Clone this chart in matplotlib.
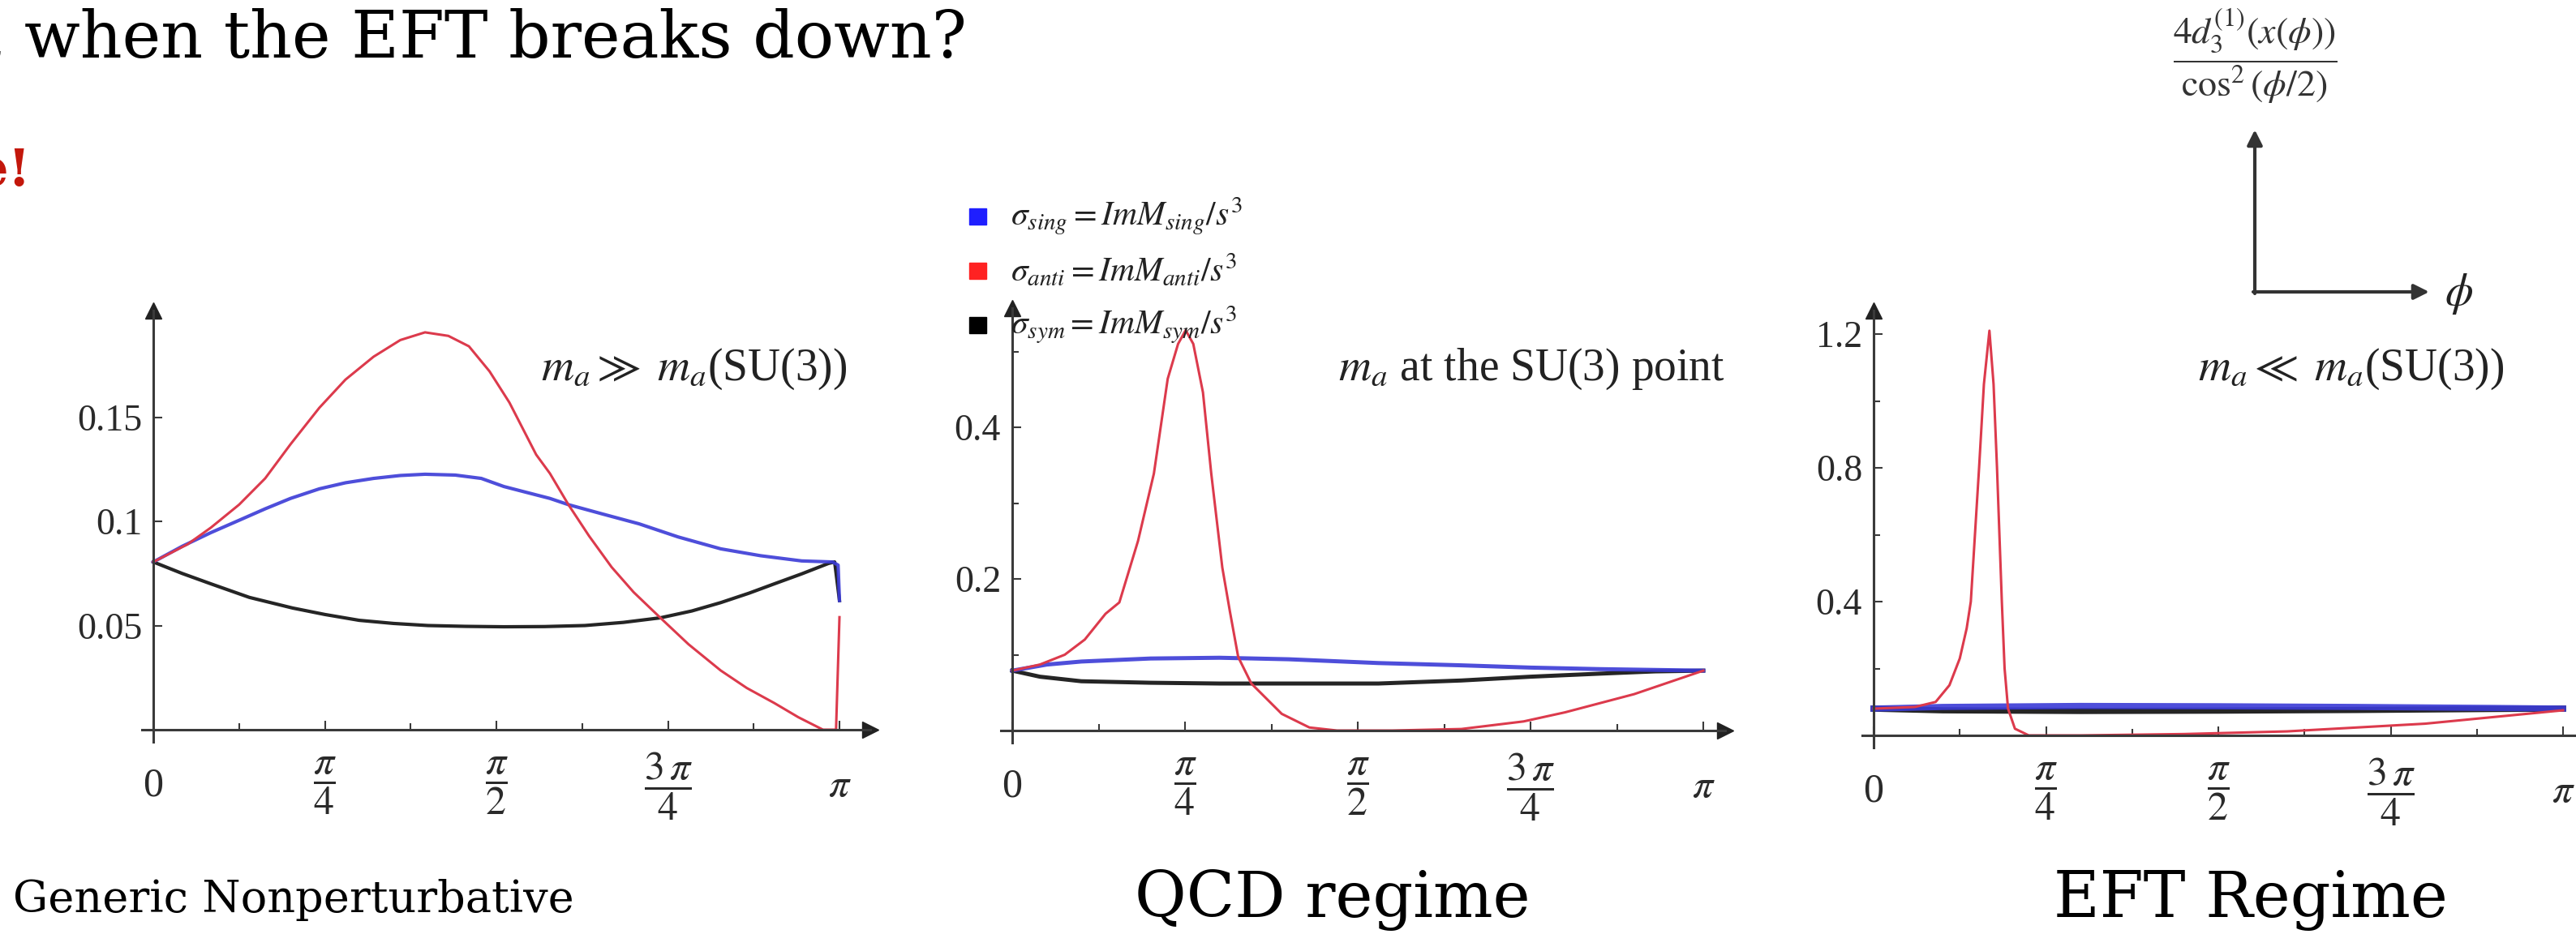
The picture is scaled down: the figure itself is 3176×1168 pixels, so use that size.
import numpy as np
import matplotlib
matplotlib.use("Agg")
from matplotlib import pyplot as plt
from matplotlib.patches import Rectangle, FancyArrowPatch
from matplotlib.ticker import FixedLocator

plt.rcParams['font.family'] = 'serif'
plt.rcParams['font.serif'] = ['Liberation Serif', 'DejaVu Serif']
plt.rcParams['mathtext.fontset'] = 'stix'

W, H = 3176, 1168

# ---- data (phi in units of pi) ----
# Generic nonperturbative panel
gen_red_phi = [0, 0.05, 0.084, 0.125, 0.163, 0.2, 0.242, 0.28, 0.321, 0.36, 0.396, 0.43, 0.46, 0.49,
               0.519, 0.558, 0.578, 0.605, 0.635, 0.668, 0.7, 0.739, 0.78, 0.827, 0.865, 0.905, 0.94,
               0.976, 0.995, 1.0]
gen_red = [0.0805, 0.089, 0.097, 0.108, 0.1206, 0.137, 0.1545, 0.168, 0.179, 0.187, 0.1907, 0.189,
           0.184, 0.172, 0.157, 0.132, 0.123, 0.108, 0.093, 0.078, 0.066, 0.0537, 0.041, 0.0284,
           0.020, 0.0128, 0.006, 0.0, 0.0, 0.054]
gen_blue_phi = [0, 0.042, 0.084, 0.125, 0.163, 0.2, 0.242, 0.28, 0.321, 0.36, 0.396, 0.44, 0.478,
                0.511, 0.545, 0.578, 0.605, 0.655, 0.708, 0.765, 0.827, 0.885, 0.945, 0.99, 0.998, 1.0]
gen_blue = [0.0805, 0.088, 0.0946, 0.1005, 0.106, 0.111, 0.1156, 0.1185, 0.1206, 0.122, 0.1226,
            0.1222, 0.1206, 0.1167, 0.1138, 0.111, 0.108, 0.1035, 0.0988, 0.0925, 0.0868, 0.0835,
            0.081, 0.0805, 0.079, 0.062]
gen_black_phi = [0, 0.042, 0.084, 0.14, 0.203, 0.25, 0.3, 0.35, 0.4, 0.455, 0.511, 0.57, 0.629,
                 0.685, 0.739, 0.785, 0.827, 0.868, 0.905, 0.945, 0.984, 0.993, 1.0]
gen_black = [0.0805, 0.075, 0.070, 0.0635, 0.0584, 0.0553, 0.0525, 0.051, 0.050, 0.0496, 0.0494,
             0.0495, 0.050, 0.0515, 0.0537, 0.057, 0.061, 0.0655, 0.070, 0.0748, 0.0798, 0.0805,
             0.062]

# QCD regime panel
qcd_red_phi = [0, 0.04, 0.076, 0.105, 0.135, 0.155, 0.182, 0.205, 0.225, 0.24, 0.251, 0.262, 0.276,
               0.288, 0.304, 0.315, 0.327, 0.346, 0.39, 0.43, 0.47, 0.55, 0.65, 0.74, 0.8, 0.9, 1.0]
qcd_red = [0.079, 0.087, 0.10, 0.12, 0.154, 0.169, 0.25, 0.339, 0.464, 0.51, 0.528, 0.51, 0.446,
           0.339, 0.215, 0.157, 0.097, 0.062, 0.022, 0.004, 0.0, 0.0, 0.002, 0.012, 0.024, 0.048, 0.079]
qcd_blue_phi = [0, 0.05, 0.1, 0.2, 0.3, 0.4, 0.53, 0.65, 0.75, 0.85, 1.0]
qcd_blue = [0.079, 0.087, 0.091, 0.095, 0.096, 0.094, 0.089, 0.086, 0.083, 0.081, 0.079]
qcd_black_phi = [0, 0.04, 0.1, 0.2, 0.3, 0.4, 0.53, 0.65, 0.75, 0.85, 0.93, 1.0]
qcd_black = [0.079, 0.071, 0.065, 0.063, 0.062, 0.062, 0.062, 0.066, 0.071, 0.075, 0.078, 0.079]

# EFT regime panel
eft_red_phi = [0, 0.06, 0.09, 0.11, 0.125, 0.135, 0.141, 0.153, 0.16, 0.168, 0.174, 0.179, 0.186,
               0.19, 0.195, 0.205, 0.225, 0.3, 0.45, 0.6, 0.8, 1.0]
eft_red = [0.08, 0.085, 0.10, 0.15, 0.23, 0.32, 0.40, 0.80, 1.05, 1.21, 1.05, 0.80, 0.40, 0.20, 0.08,
           0.02, 0.0, 0.0, 0.004, 0.012, 0.035, 0.075]
eft_blue_phi = [0, 0.1, 0.3, 0.5, 0.7, 0.9, 1.0]
eft_blue = [0.08, 0.085, 0.088, 0.087, 0.085, 0.082, 0.08]
eft_black_phi = [0, 0.1, 0.3, 0.5, 0.7, 0.9, 1.0]
eft_black = [0.08, 0.075, 0.073, 0.074, 0.076, 0.079, 0.08]

x_tick_labels = ['0', r'$\dfrac{\pi}{4}$', r'$\dfrac{\pi}{2}$', r'$\dfrac{3\,\pi}{4}$', r'$\pi$']
gen_yticks, gen_ylabels = [0.05, 0.1, 0.15], ['0.05', '0.1', '0.15']
qcd_yticks, qcd_ylabels = [0.2, 0.4], ['0.2', '0.4']
eft_yticks, eft_ylabels = [0.4, 0.8, 1.2], ['0.4', '0.8', '1.2']

legend_labels = [r'$\sigma_{sing} = ImM_{sing}/s^3$',
                 r'$\sigma_{anti} = ImM_{anti}/s^3$',
                 r'$\sigma_{sym} = ImM_{sym}/s^3$']
legend_colors = ['#1f1fff', '#ff2222', '#000000']

panel_notes = [r'$m_a \gg\ m_a$(SU(3))', r'$m_a$ at the SU(3) point', r'$m_a \ll\ m_a$(SU(3))']
captions = ['Generic Nonperturbative', 'QCD regime', 'EFT Regime']

RED, BLUE, BLACK = '#dc3a4c', '#3b3bd6', '#252525'
AXC = '#3a3a3a'


def fx(px):
    return px / W


def fy(py):
    return 1 - py / H


fig = plt.figure(figsize=(W / 100, H / 100), dpi=100)


def panel(l, r, t, b, ox, oy, sx, sy, yticks, ylabels, yminor, arrow_x=True):
    ax = fig.add_axes([fx(l), fy(b), (r - l) / W, (b - t) / H])
    ax.set_xlim((l - ox) / sx * np.pi, (r - ox) / sx * np.pi)
    ax.set_ylim((oy - b) / sy, (oy - t) / sy)
    ax.patch.set_alpha(0)
    for s in ['top', 'right']:
        ax.spines[s].set_visible(False)
    for s in ['left', 'bottom']:
        ax.spines[s].set_position(('data', 0))
        ax.spines[s].set_linewidth(2.2)
        ax.spines[s].set_color(AXC)
    ax.xaxis.set_major_locator(FixedLocator(np.pi * np.array([0, 0.25, 0.5, 0.75, 1.0])))
    ax.set_xticklabels(x_tick_labels)
    ax.xaxis.set_minor_locator(FixedLocator(np.pi * np.array([0.125, 0.375, 0.625, 0.875])))
    ax.yaxis.set_major_locator(FixedLocator(yticks))
    ax.set_yticklabels(ylabels)
    ax.yaxis.set_minor_locator(FixedLocator(yminor))
    ax.tick_params(which='both', direction='in', colors=AXC, labelcolor='#2a2a2a', width=1.5)
    ax.tick_params(which='major', length=8)
    ax.tick_params(which='minor', length=6)
    ax.tick_params(axis='x', labelsize=36, pad=50)
    ax.tick_params(axis='y', labelsize=33, pad=10)
    for lab in ax.get_xticklabels():
        lab.set_verticalalignment('center')
    ax.plot(0, 1, marker='^', ms=15, color='#222222', transform=ax.get_xaxis_transform(),
            clip_on=False)
    if arrow_x:
        ax.plot(1, 0, marker='>', ms=15, color='#222222', transform=ax.get_yaxis_transform(),
                clip_on=False)
    return ax


ax1 = panel(175, 1073, 383, 915, 189, 900, 846, 2570, gen_yticks, gen_ylabels, [])
ax2 = panel(1234, 2127, 380, 916, 1248, 901, 852, 935, qcd_yticks, qcd_ylabels, [0.1, 0.3, 0.5])
ax3 = panel(2296, 3176, 383, 922, 2310, 907, 850, 412.5, eft_yticks, eft_ylabels, [0.2, 0.6, 1.0],
            arrow_x=False)

for ax, (bp, bv), (kp, kv), (rp, rv), lw in [
        (ax1, (gen_blue_phi, gen_blue), (gen_black_phi, gen_black), (gen_red_phi, gen_red), 3.0),
        (ax2, (qcd_blue_phi, qcd_blue), (qcd_black_phi, qcd_black), (qcd_red_phi, qcd_red), 3.6),
        (ax3, (eft_blue_phi, eft_blue), (eft_black_phi, eft_black), (eft_red_phi, eft_red), 5.5)]:
    ax.plot(np.array(kp) * np.pi, kv, color=BLACK, lw=lw, solid_joinstyle='round')
    ax.plot(np.array(bp) * np.pi, bv, color=BLUE, lw=lw, solid_joinstyle='round', alpha=0.9)
    ax.plot(np.array(rp) * np.pi, rv, color=RED, lw=2.2, solid_joinstyle='round')

# notes inside the panels
for x0, note in zip([667, 1650, 2710], panel_notes):
    fig.text(fx(x0), fy(455), note, fontsize=40, color='#222222', ha='left', va='center')

# title fragment and red exclamation
fig.text(fx(30), fy(71), 'when the EFT breaks down?', family='DejaVu Serif', fontsize=58,
         ha='left', va='baseline', color='black')
fig.text(fx(8), fy(71), ',', family='DejaVu Serif', fontsize=58, ha='right', va='baseline')
fig.text(fx(38), fy(212), 'e!', family='DejaVu Serif', weight='bold', fontsize=46,
         color='#c3170b', ha='right', va='center')

# legend
for i, (lab, col) in enumerate(zip(legend_labels, legend_colors)):
    ycen = 267 + i * 67
    fig.add_artist(Rectangle((fx(1195), fy(ycen + 10)), 21 / W, 20 / H, color=col,
                             transform=fig.transFigure))
    fig.text(fx(1246), fy(ycen), lab, fontsize=30, color='#222222', ha='left', va='center')

# small axes sketch at top right
fig.text(fx(2780), fy(70), r'$\dfrac{4d_3^{(1)}(x(\phi))}{\cos^2(\phi/2)}$', fontsize=33,
         color='#333333', ha='center', va='center')
fig.add_artist(FancyArrowPatch((fx(2780), fy(362)), (fx(2780), fy(160)),
                               transform=fig.transFigure, arrowstyle='-|>', mutation_scale=28,
                               lw=3, color='#333333', shrinkA=0, shrinkB=0))
fig.add_artist(FancyArrowPatch((fx(2778), fy(360)), (fx(2995), fy(360)),
                               transform=fig.transFigure, arrowstyle='-|>', mutation_scale=28,
                               lw=3, color='#333333', shrinkA=0, shrinkB=0))
fig.text(fx(3032), fy(362), r'$\phi$', fontsize=40, color='#222222', ha='center', va='center')

# captions
for xc, cap, fs in zip([362, 1643, 2775], captions, [39, 56, 56]):
    fig.text(fx(xc), fy(1110), cap, family='DejaVu Serif', fontsize=fs,
             ha='center', va='center', color='black')

fig.savefig('out.png', dpi=100)
